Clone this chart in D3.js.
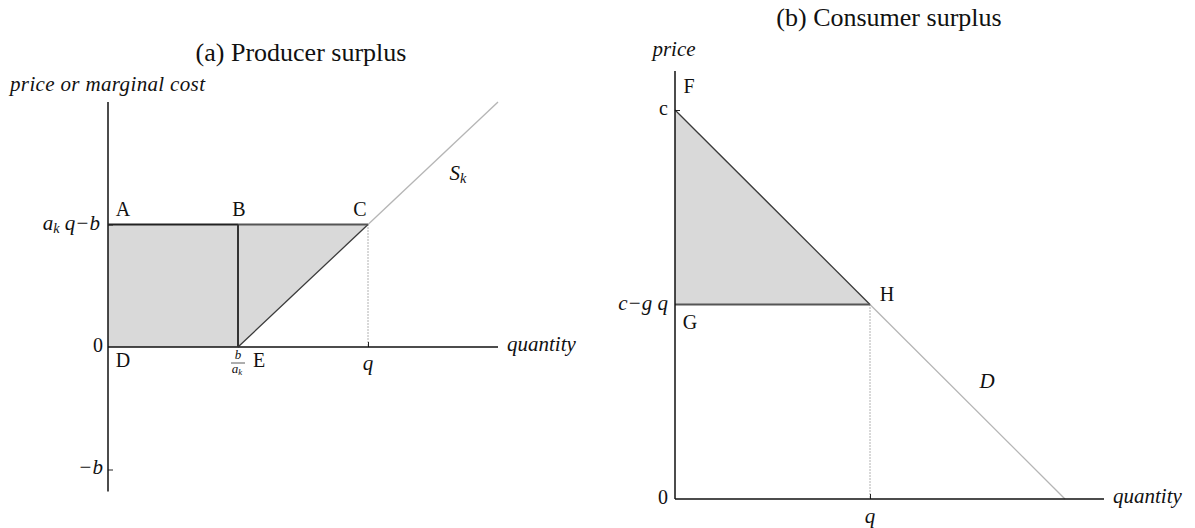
<!DOCTYPE html>
<html>
<head>
<meta charset="utf-8">
<script src="https://cdn.jsdelivr.net/npm/d3@7/dist/d3.min.js"></script>
<style>
  html, body { margin: 0; padding: 0; background: #fff; }
  svg { display: block; }
  text { font-family: "Liberation Serif", "DejaVu Serif", serif; fill: #111; }
  .it { font-style: italic; }
</style>
</head>
<body>
<svg id="chart" width="1195" height="528"></svg>
<script>
// ---------------- DATA (units: b = 1, a_k = 1, q = 2 ; c = 2, g = 1, q = 1) ----------------
const titles = ["(a) Producer surplus", "(b) Consumer surplus"];

// Panel (a): producer surplus
const aXDomain = [0, 3];
const aYDomain = [-1.18, 2];
const aQ = 2;            // q
const aBoverA = 1;       // b / a_k
const aPrice = 1;        // a_k q - b
const aNegB = -1;        // -b
const aSupplyX = [1, 2, 3];          // supply curve S_k = a_k x - b (drawn from E)
const aSupplyY = [0, 1, 2];
const aRect = [[0, 0], [0, 1], [1, 1], [1, 0]];   // A D E B
const aTri = [[1, 0], [1, 1], [2, 1]];            // E B C
const aPointNames = ["A", "B", "C", "D", "E"];
const aPointX = [0, 1, 2, 0, 1];
const aPointY = [1, 1, 1, 0, 0];

// Panel (b): consumer surplus
const bXDomain = [0, 2.2];
const bYDomain = [0, 2.2];
const bC = 2;            // c
const bQ = 1;            // q
const bPrice = 1;        // c - g q
const bDemandX = [0, 1, 2];          // demand D = c - g x
const bDemandY = [2, 1, 0];
const bTri = [[0, 2], [0, 1], [1, 1]];            // F G H
const bPointNames = ["F", "G", "H"];
const bPointX = [0, 0, 1];
const bPointY = [2, 1, 1];

// ---------------- DRAWING ----------------
const svg = d3.select("#chart");
svg.append("rect").attr("width", 1195).attr("height", 528).attr("fill", "#fff");

const fill = "#d9d9d9";
const dark = "#3a3a3a";
const light = "#b5b5b5";
const FS = 21;   // italic label size
const LS = 20;   // roman letter size

function italicText(g, x, y, parts, size, anchor) {
  const t = g.append("text").attr("x", x).attr("y", y)
    .attr("class", "it").attr("font-size", size)
    .attr("text-anchor", anchor || "start").attr("dominant-baseline", "middle");
  parts.forEach(p => {
    const s = t.append("tspan").text(p[0]);
    if (p[1] === "sub") s.attr("font-size", size * 0.68).attr("dy", size * 0.25);
    if (p[1] === "up") s.attr("dy", -size * 0.25);
    if (p[1] === "roman") s.attr("font-style", "normal");
  });
  return t;
}

// ===== Panel (a) =====
const ax = d3.scaleLinear().domain(aXDomain).range([108, 498]);
const ay = d3.scaleLinear().domain([0, 1]).range([347, 224.5]);
const aYTop = ay(aYDomain[1]), aYBot = ay(aYDomain[0]);
const ga = svg.append("g");
const line = d3.line();

ga.append("path").attr("d", line(aRect.map(d => [ax(d[0]), ay(d[1])])) + "Z").attr("fill", fill);
ga.append("path").attr("d", line(aTri.map(d => [ax(d[0]), ay(d[1])])) + "Z").attr("fill", fill);

ga.append("line").attr("x1", ax(aSupplyX[1])).attr("y1", ay(aSupplyY[1]))
  .attr("x2", ax(aSupplyX[2])).attr("y2", ay(aSupplyY[2]))
  .attr("stroke", light).attr("stroke-width", 1.3);
ga.append("line").attr("x1", ax(aSupplyX[0])).attr("y1", ay(aSupplyY[0]))
  .attr("x2", ax(aSupplyX[1])).attr("y2", ay(aSupplyY[1]))
  .attr("stroke", dark).attr("stroke-width", 1.3);
ga.append("line").attr("x1", ax(aQ)).attr("y1", ay(aPrice)).attr("x2", ax(aQ)).attr("y2", ay(0))
  .attr("stroke", "#666").attr("stroke-width", 1).attr("stroke-dasharray", "1,2");

const axA = d3.axisBottom(ax).tickValues([aBoverA, aQ]).tickSize(-5).tickFormat("");
ga.append("g").attr("transform", `translate(0,${ay(0)})`).call(axA)
  .call(g => g.select(".domain").remove())
  .call(g => g.selectAll("line").attr("stroke", "#222"));
ga.append("line").attr("x1", ax(0)).attr("x2", ax(aXDomain[1])).attr("y1", ay(0)).attr("y2", ay(0))
  .attr("stroke", "#111").attr("stroke-width", 1.5);
const ayAxis = d3.axisRight(ay).tickValues([aNegB, aPrice]).tickSize(5).tickFormat("");
ga.append("g").attr("transform", `translate(${ax(0)},0)`).call(ayAxis)
  .call(g => g.select(".domain").remove())
  .call(g => g.selectAll("line").attr("stroke", "#222"));
ga.append("line").attr("x1", ax(0)).attr("x2", ax(0)).attr("y1", aYTop).attr("y2", aYBot)
  .attr("stroke", "#111").attr("stroke-width", 1.5);

ga.append("line").attr("x1", ax(0)).attr("x2", ax(aBoverA)).attr("y1", ay(aPrice)).attr("y2", ay(aPrice))
  .attr("stroke", "#222").attr("stroke-width", 2);
ga.append("line").attr("x1", ax(aBoverA)).attr("x2", ax(aQ)).attr("y1", ay(aPrice)).attr("y2", ay(aPrice))
  .attr("stroke", "#555").attr("stroke-width", 2);
ga.append("line").attr("x1", ax(aBoverA)).attr("x2", ax(aBoverA)).attr("y1", ay(aPrice)).attr("y2", ay(0))
  .attr("stroke", "#333").attr("stroke-width", 2);

ga.append("text").attr("x", 301).attr("y", 55).attr("text-anchor", "middle")
  .attr("dominant-baseline", "middle").attr("font-size", 26).text(titles[0]);
italicText(ga, 10, 86, [["price or marginal cost"]], FS, "start").attr("textLength", 195);
italicText(ga, ax(aXDomain[1]) + 9, ay(0) - 1, [["quantity"]], FS, "start");

italicText(ga, ax(0) - 8, ay(aPrice), [["a"], ["k", "sub"], [" q", "up"], ["−b"]], FS, "end");
ga.append("text").attr("x", ax(0) - 5).attr("y", ay(0)).attr("text-anchor", "end")
  .attr("dominant-baseline", "middle").attr("font-size", LS).text("0");
italicText(ga, ax(0) - 5, ay(aNegB) - 1, [["−b"]], FS, "end");

italicText(ga, ax(aQ), ay(0) + 18, [["q"]], FS, "middle");
italicText(ga, ax(aBoverA), ay(0) + 9, [["b"]], 13, "middle");
ga.append("line").attr("x1", ax(aBoverA) - 7).attr("x2", ax(aBoverA) + 7)
  .attr("y1", ay(0) + 16).attr("y2", ay(0) + 16).attr("stroke", "#333").attr("stroke-width", 0.8);
italicText(ga, ax(aBoverA) - 1, ay(0) + 23, [["a"], ["k", "sub"]], 13, "middle");

const aOff = { A: [15, -13], B: [1, -13], C: [-8, -13], D: [15, 15], E: [21, 15] };
aPointNames.forEach((n, i) => {
  ga.append("text").attr("x", ax(aPointX[i]) + aOff[n][0]).attr("y", ay(aPointY[i]) + aOff[n][1])
    .attr("text-anchor", "middle").attr("dominant-baseline", "middle").attr("font-size", LS).text(n);
});
italicText(ga, 458, 175, [["S"], ["k", "sub"]], FS, "middle");

// ===== Panel (b) =====
const bx = d3.scaleLinear().domain([0, 1]).range([675, 870]);
const by = d3.scaleLinear().domain([0, 1]).range([499, 304.5]);
const gb = svg.append("g");

gb.append("path").attr("d", line(bTri.map(d => [bx(d[0]), by(d[1])])) + "Z").attr("fill", fill);
gb.append("line").attr("x1", bx(bDemandX[1])).attr("y1", by(bDemandY[1]))
  .attr("x2", bx(bDemandX[2])).attr("y2", by(bDemandY[2]))
  .attr("stroke", light).attr("stroke-width", 1.3);
gb.append("line").attr("x1", bx(bDemandX[0])).attr("y1", by(bDemandY[0]))
  .attr("x2", bx(bDemandX[1])).attr("y2", by(bDemandY[1]))
  .attr("stroke", dark).attr("stroke-width", 1.3);
gb.append("line").attr("x1", bx(0)).attr("x2", bx(bQ)).attr("y1", by(bPrice)).attr("y2", by(bPrice))
  .attr("stroke", "#555").attr("stroke-width", 2);
gb.append("line").attr("x1", bx(bQ)).attr("y1", by(bPrice)).attr("x2", bx(bQ)).attr("y2", by(0))
  .attr("stroke", "#666").attr("stroke-width", 1).attr("stroke-dasharray", "1,2");

const bxAxis = d3.axisBottom(bx).tickValues([bQ]).tickSize(-5).tickFormat("");
gb.append("g").attr("transform", `translate(0,${by(0)})`).call(bxAxis)
  .call(g => g.select(".domain").remove())
  .call(g => g.selectAll("line").attr("stroke", "#222"));
const byAxis = d3.axisRight(by).tickValues([bC]).tickSize(5).tickFormat("");
gb.append("g").attr("transform", `translate(${bx(0)},0)`).call(byAxis)
  .call(g => g.select(".domain").remove())
  .call(g => g.selectAll("line").attr("stroke", "#222"));
gb.append("line").attr("x1", bx(0)).attr("x2", bx(bXDomain[1])).attr("y1", by(0)).attr("y2", by(0))
  .attr("stroke", "#111").attr("stroke-width", 1.5);
gb.append("line").attr("x1", bx(0)).attr("x2", bx(0)).attr("y1", by(bYDomain[1])).attr("y2", by(0))
  .attr("stroke", "#111").attr("stroke-width", 1.5);

gb.append("text").attr("x", 889).attr("y", 20).attr("text-anchor", "middle")
  .attr("dominant-baseline", "middle").attr("font-size", 26).text(titles[1]);
italicText(gb, bx(0) - 1, 51, [["price"]], FS, "middle");
italicText(gb, bx(bXDomain[1]) + 9, by(0) - 1, [["quantity"]], FS, "start");

gb.append("text").attr("x", bx(0) - 7).attr("y", by(bC)).attr("text-anchor", "end")
  .attr("dominant-baseline", "middle").attr("font-size", LS).text("c");
italicText(gb, bx(0) - 7, by(bPrice), [["c−g q"]], FS, "end");
gb.append("text").attr("x", bx(0) - 7).attr("y", by(0)).attr("text-anchor", "end")
  .attr("dominant-baseline", "middle").attr("font-size", LS).text("0");
italicText(gb, bx(bQ), by(0) + 19, [["q"]], FS, "middle");

const bOff = { F: [14, -22], G: [15, 20], H: [17, -8] };
bPointNames.forEach((n, i) => {
  gb.append("text").attr("x", bx(bPointX[i]) + bOff[n][0]).attr("y", by(bPointY[i]) + bOff[n][1])
    .attr("text-anchor", "middle").attr("dominant-baseline", "middle").attr("font-size", LS).text(n);
});
italicText(gb, 987, 383, [["D"]], FS, "middle");
</script>
</body>
</html>
